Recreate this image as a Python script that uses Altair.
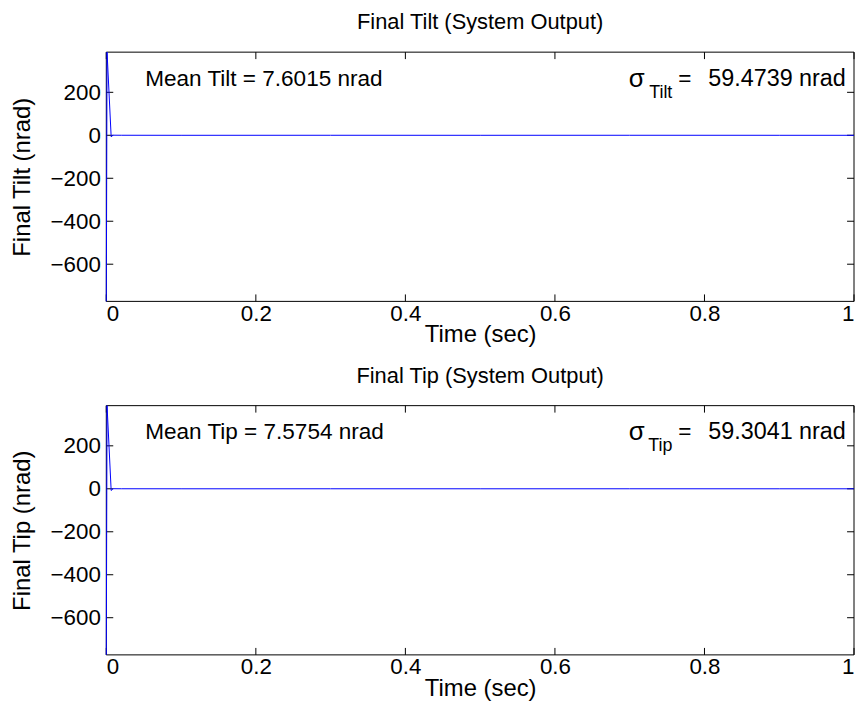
import altair as alt
import pandas as pd

# ---- data ----
time_s = [0.0, 0.001, 0.0065, 0.009, 0.02, 0.1, 0.3, 0.5, 0.7, 0.9, 1.0]
tilt_nrad = [-773, 387, -7, 0.5, 0.2, 0.0, 0.1, 0.0, 0.1, 0.0, 0.0]
tip_nrad = [-773, 387, -8, 0.5, 0.2, 0.0, 0.1, 0.0, 0.1, 0.0, 0.0]

x_ticks = [0, 0.2, 0.4, 0.6, 0.8, 1]
y_ticks = [-600, -400, -200, 0, 200]
x_domain = [0, 1]
y_domain = [-773, 387]

W, H = 753, 251
FONT = "Liberation Sans"
TITLE_FS = 22
LABEL_FS = 22.5
AXTITLE_FS = 24
NOTE_FS = 22.7


def enc_x():
    return alt.X("t:Q", scale=alt.Scale(domain=x_domain, nice=False, zero=False),
                 axis=alt.Axis(values=x_ticks, format="~g", title="Time (sec)"))


def enc_y(ytitle):
    return alt.Y("v:Q", scale=alt.Scale(domain=y_domain, nice=False, zero=False),
                 axis=alt.Axis(values=y_ticks, title=ytitle))


def note(t, v, s, align, size):
    return alt.Chart(pd.DataFrame({"t": [t], "v": [v], "s": [s]})).mark_text(
        align=align, baseline="middle", fontSize=size, font=FONT, color="black")


def panel(vals, title, ytitle, mean_txt, sub_txt, sigma_val):
    df = pd.DataFrame({"t": time_s, "v": vals})

    # frame (drawn under the data line)
    f_left = alt.Chart().mark_rule(color="black", strokeWidth=1).encode(
        x=alt.value(0), y=alt.value(0), y2=alt.value(H))
    f_right = alt.Chart().mark_rule(color="black", strokeWidth=1).encode(
        x=alt.value(W), y=alt.value(0), y2=alt.value(H))
    f_top = alt.Chart().mark_rule(color="black", strokeWidth=1).encode(
        y=alt.value(0), x=alt.value(0), x2=alt.value(W))
    f_bot = alt.Chart().mark_rule(color="black", strokeWidth=1).encode(
        y=alt.value(H), x=alt.value(0), x2=alt.value(W))

    ydf = pd.DataFrame({"v": y_ticks})
    xdf = pd.DataFrame({"t": x_ticks})
    lt = alt.Chart(ydf).mark_rule(color="black", strokeWidth=1).encode(
        y=enc_y(ytitle), x=alt.value(0), x2=alt.value(7))
    rt = alt.Chart(ydf).mark_rule(color="black", strokeWidth=1).encode(
        y=enc_y(ytitle), x=alt.value(W), x2=alt.value(W - 7))
    tt = alt.Chart(xdf).mark_rule(color="black", strokeWidth=1).encode(
        x=enc_x(), y=alt.value(0), y2=alt.value(7))
    bt = alt.Chart(xdf).mark_rule(color="black", strokeWidth=1).encode(
        x=enc_x(), y=alt.value(H), y2=alt.value(H - 7))

    line = alt.Chart(df).mark_line(color="#0000ff", strokeWidth=1).encode(
        x=enc_x(), y=enc_y(ytitle))

    texts = []
    for t, v, s, al, fs in [
        (0.052, 264, mean_txt, "left", NOTE_FS),
        (0.720, 264, "σ", "right", 26),
        (0.757, 197, sub_txt, "right", 18),
        (0.765, 264, "=", "left", NOTE_FS),
        (0.989, 264, sigma_val, "right", 23.5),
    ]:
        texts.append(note(t, v, s, al, fs).encode(x=enc_x(), y=enc_y(ytitle), text="s:N"))

    return alt.layer(f_left, f_right, f_top, f_bot, lt, rt, tt, bt, line, *texts).properties(
        width=W, height=H,
        title=alt.TitleParams(title, fontSize=TITLE_FS, fontWeight="normal", font=FONT,
                              color="black", offset=16))


top = panel(tilt_nrad, "Final Tilt (System Output)", "Final Tilt (nrad)",
            "Mean Tilt = 7.6015 nrad", "Tilt", "59.4739 nrad")
bottom = panel(tip_nrad, "Final Tip (System Output)", "Final Tip (nrad)",
               "Mean Tip = 7.5754 nrad", "Tip", "59.3041 nrad")

chart = alt.vconcat(top, bottom, spacing=18).properties(
    padding={"left": 2, "top": 1, "right": 0, "bottom": 0}
).configure(font=FONT).configure_view(
    stroke=None
).configure_axis(
    domain=False, ticks=False, grid=False,
    labelFontSize=LABEL_FS, titleFontSize=AXTITLE_FS, labelFont=FONT, titleFont=FONT,
    labelColor="black", titleColor="black", titleFontWeight="normal"
).configure_axisX(
    labelPadding=1, titlePadding=-2
).configure_axisY(
    labelPadding=6, titlePadding=16
)

chart.save("out.html", embed_options={"renderer": "svg", "actions": False})
